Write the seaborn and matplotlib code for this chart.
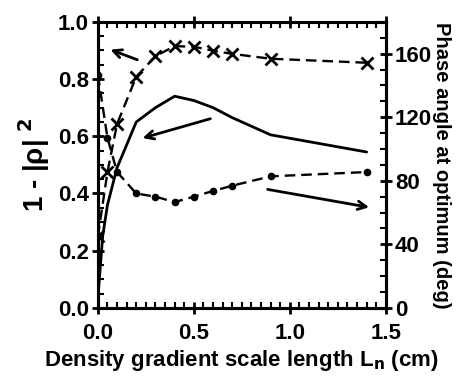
import numpy as np
import pandas as pd
import matplotlib
matplotlib.use("Agg")
import matplotlib.pyplot as plt
from matplotlib.ticker import MultipleLocator, FormatStrFormatter
import seaborn as sns

# values
ln_cross = [0.0, 0.05, 0.1, 0.2, 0.3, 0.4, 0.5, 0.6, 0.7, 0.9, 1.4]
refl_cross = [0.25, 0.475, 0.643, 0.808, 0.88, 0.915, 0.913, 0.899, 0.888, 0.871, 0.857]

ln_solid = [0.0, 0.01, 0.025, 0.05, 0.1, 0.15, 0.2, 0.3, 0.4, 0.5, 0.6, 0.7, 0.9, 1.4]
refl_solid = [0.03, 0.12, 0.25, 0.36, 0.49, 0.57, 0.65, 0.70, 0.74, 0.725, 0.70, 0.665, 0.605, 0.545]

ln_dot = [0.0, 0.05, 0.1, 0.2, 0.3, 0.4, 0.5, 0.6, 0.7, 0.9, 1.4]
phase_dot = [146.7, 107.0, 85.5, 72.0, 70.0, 66.6, 70.0, 73.6, 76.9, 82.8, 85.5]

sns.set_style("ticks")
plt.rcParams["font.family"] = ["Liberation Sans Narrow", "Liberation Sans", "DejaVu Sans"]
plt.rcParams["font.weight"] = "bold"
for k in ["text.color", "axes.labelcolor", "xtick.color", "ytick.color", "axes.edgecolor"]:
    plt.rcParams[k] = "black"

fig = plt.figure(figsize=(4.66, 3.83), dpi=100)
ax = fig.add_axes([0.210, 0.196, 0.618, 0.747])
ax2 = ax.twinx()

df_c = pd.DataFrame({"x": ln_cross, "y": refl_cross})
df_s = pd.DataFrame({"x": ln_solid, "y": refl_solid})
df_d = pd.DataFrame({"x": ln_dot, "y": phase_dot})

sns.lineplot(data=df_s, x="x", y="y", ax=ax, color="black", lw=2, sort=False, estimator=None)
sns.lineplot(data=df_c, x="x", y="y", ax=ax, color="black", lw=1.7, sort=False, estimator=None,
             linestyle=(0, (4.5, 2.5)), marker="x", markersize=8, markeredgewidth=2,
             markeredgecolor="black")
sns.lineplot(data=df_d, x="x", y="y", ax=ax2, color="black", lw=1.7, sort=False, estimator=None,
             linestyle=(0, (4.5, 2.5)), marker="o", markersize=5.5, markeredgewidth=0)

ax.set_xlim(0, 1.5)
ax.set_ylim(0, 1.0)
ax2.set_ylim(0, 180)

ax.xaxis.set_major_locator(MultipleLocator(0.5))
ax.xaxis.set_minor_locator(MultipleLocator(0.05))
ax.yaxis.set_major_locator(MultipleLocator(0.2))
ax.yaxis.set_minor_locator(MultipleLocator(0.05))
ax.xaxis.set_major_formatter(FormatStrFormatter("%.1f"))
ax.yaxis.set_major_formatter(FormatStrFormatter("%.1f"))
ax2.yaxis.set_major_locator(MultipleLocator(40))
ax2.yaxis.set_minor_locator(MultipleLocator(10))

ax.tick_params(axis="both", which="major", direction="inout", length=9, width=2, labelsize=16, pad=2)
ax.tick_params(axis="both", which="minor", direction="in", length=4, width=1.5)
ax.tick_params(axis="x", which="both", top=True)
ax.tick_params(axis="x", which="major", pad=6)
ax2.tick_params(axis="y", which="major", direction="inout", length=9, width=2, labelsize=16, pad=2)
ax2.tick_params(axis="y", which="minor", direction="in", length=4, width=1.5)

for a in (ax, ax2):
    for s in a.spines.values():
        s.set_linewidth(2.2)
        s.set_visible(True)
    for lab in a.get_xticklabels() + a.get_yticklabels():
        lab.set_fontweight("bold")

ax.set_xlabel("Density gradient scale length L$_\\mathbf{n}$ (cm)", fontsize=16, fontweight="bold", labelpad=3)
ax.set_ylabel("1 - |\u03c1| $^{\\mathbf{2}}$", fontsize=20, fontweight="bold", labelpad=4)
ax2.set_ylabel("Phase angle at optimum (deg)", fontsize=14.5, fontweight="bold", rotation=270, labelpad=14)

arrow = dict(arrowstyle="->", color="black", lw=2, mutation_scale=15)
ax.annotate("", xy=(0.052, 0.906), xytext=(0.219, 0.864), arrowprops=arrow)
ax.annotate("", xy=(0.219, 0.591), xytext=(0.60, 0.664), arrowprops=arrow)
ax.annotate("", xy=(1.427, 0.35), xytext=(0.87, 0.416), arrowprops=arrow)

fig.savefig("out.png", dpi=100)
